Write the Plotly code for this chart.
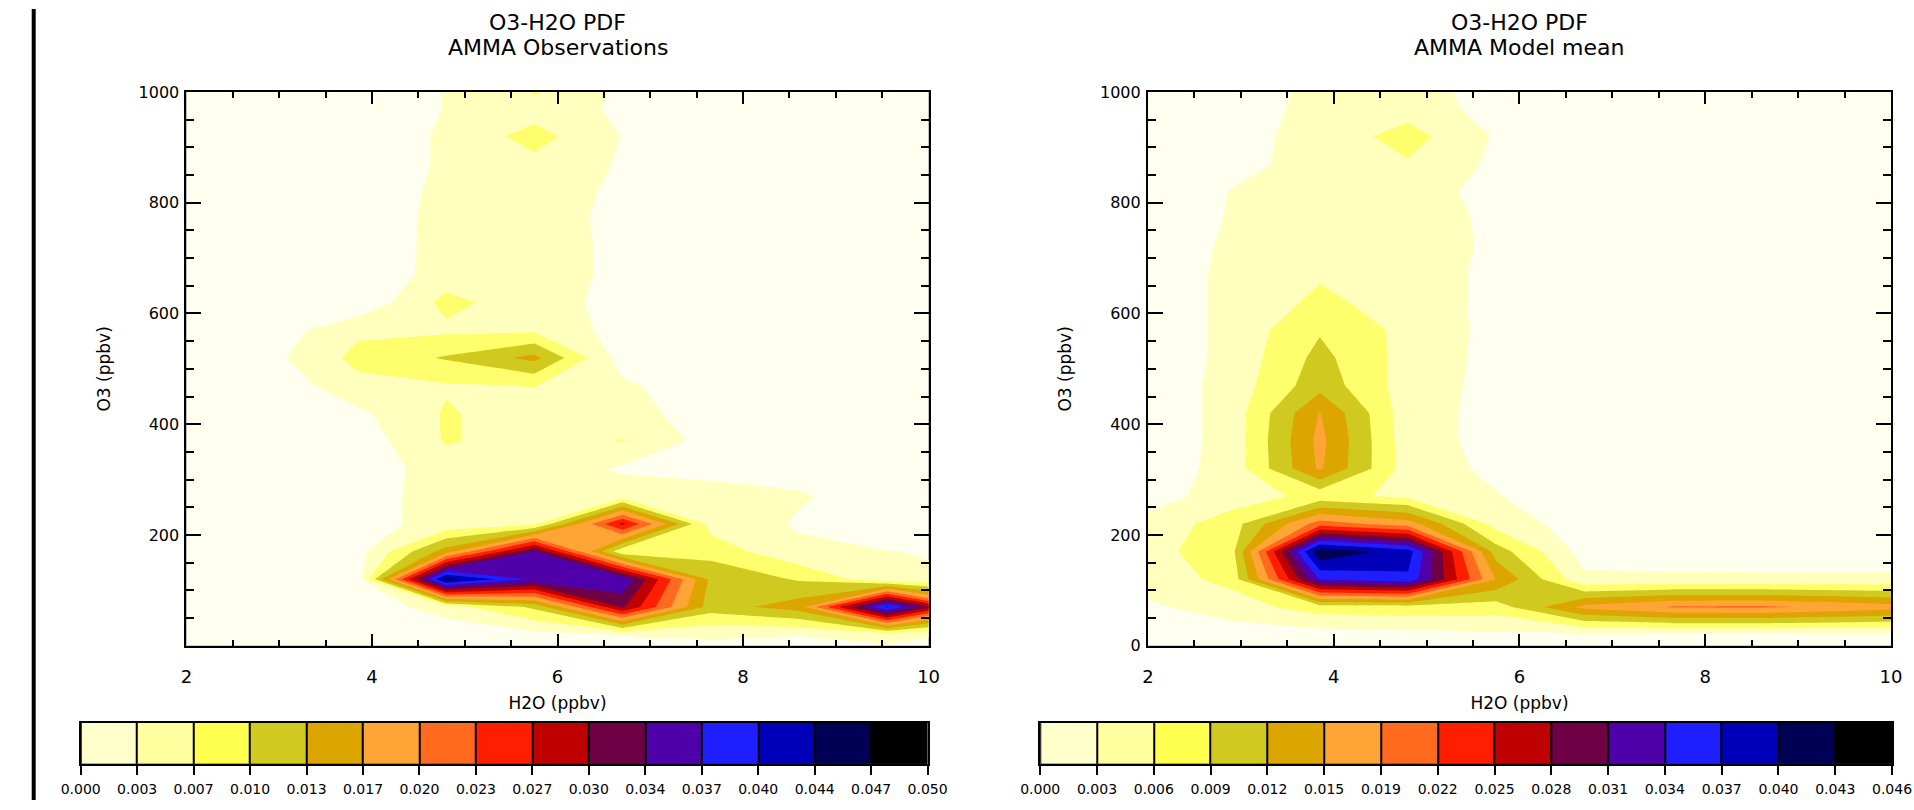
import numpy as np
import plotly.graph_objects as go

# ---------------- data ----------------
# grid of the 2-D PDF (H2O bins, O3 bins)
h2o = [1.0, 1.95, 2.9, 3.85, 4.8, 5.75, 6.7, 7.65, 8.6, 9.55, 10.5]
o3 = [-30, 20, 70, 120, 170, 220, 270, 320, 370, 420, 470, 520,
      570, 620, 670, 720, 770, 820, 870, 920, 970, 1020]

# PDF values x 1e-3, rows = o3 bins, columns = h2o bins
obs_pdf_e3 = [
    [0, 0, 0, 0, 0, 0, 0, 0, 0, 0, 0],
    [0, 0, 0, 0, 1.0, 2.33, 3.5, 4.0, 3.5, 5.0, 2.67],
    [0, 0, 0, 1.0, 5.0, 10.67, 30.5, 11.67, 15.0, 40.5, 20.5],
    [0, 0, 0, 1.67, 45.0, 36.0, 36.33, 12.67, 9.67, 4.33, 3.4],
    [0, 0, 0, 2.0, 15.0, 33.6, 7.33, 8.67, 4.0, 3.4, 3.0],
    [0, 0, 0, 2.33, 4.33, 6.0, 27.5, 5.33, 3.0, 1.33, 1.0],
    [0, 0, 0, 2.0, 4.67, 6.0, 5.0, 4.0, 3.67, 1.67, 0.67],
    [0, 0, 0, 1.33, 5.0, 5.0, 2.9, 2.8, 2.0, 0.67, 0],
    [0, 0, 0, 1.33, 7.0, 5.0, 6.83, 2.0, 0.67, 0, 0],
    [0, 0, 0, 2.67, 7.0, 5.0, 4.67, 1.67, 0, 0, 0],
    [0, 0, 1.0, 5.67, 6.33, 6.8, 4.0, 1.0, 0, 0, 0],
    [0, 0, 2.33, 7.67, 10.33, 14.33, 1.67, 0.33, 0, 0, 0],
    [0, 0, 1.33, 6.0, 6.0, 6.0, 2.0, 0, 0, 0, 0],
    [0, 0, 0, 0.67, 7.67, 4.67, 2.33, 0, 0, 0, 0],
    [0, 0, 0, 0.33, 5.0, 4.67, 2.67, 0, 0, 0, 0],
    [0, 0, 0, 0.67, 4.67, 4.67, 2.67, 0, 0, 0, 0],
    [0, 0, 0, 0.67, 4.67, 5.0, 2.33, 0, 0, 0, 0],
    [0, 0, 0, 0.67, 4.33, 5.0, 2.67, 0, 0, 0, 0],
    [0, 0, 0, 0.33, 4.0, 5.67, 3.0, 0, 0, 0, 0],
    [0, 0, 0, 0.33, 4.0, 8.0, 3.2, 0, 0, 0, 0],
    [0, 0, 0, 0.33, 3.5, 5.0, 2.8, 0, 0, 0, 0],
    [0, 0, 0, 0.33, 3.5, 8.33, 2.8, 0, 0, 0, 0],
]

model_pdf_e3 = [
    [0, 0, 0, 0, 0, 0, 0, 0, 0, 0, 0],
    [0, 0.61, 1.53, 1.84, 2.15, 2.45, 2.45, 2.45, 2.45, 2.45, 2.45],
    [0.61, 2.45, 4.6, 7.67, 7.97, 7.67, 16.25, 18.71, 18.86, 17.48, 15.95],
    [0.92, 4.29, 7.05, 34.0, 36.19, 15.2, 3.68, 3.68, 3.68, 3.68, 3.68],
    [0.92, 4.91, 7.97, 42.6, 38.34, 10.73, 1.84, 1.53, 1.23, 1.23, 1.23],
    [0.92, 3.99, 7.67, 19.94, 16.87, 4.91, 1.53, 0.92, 0.61, 0.61, 0.61],
    [0.31, 1.53, 4.6, 7.05, 5.52, 3.2, 0.92, 0.31, 0, 0, 0],
    [0, 0.92, 4.29, 15.8, 4.6, 2.45, 0.61, 0, 0, 0, 0],
    [0, 0.61, 4.29, 16.25, 4.29, 2.15, 0.31, 0, 0, 0, 0],
    [0, 0.61, 4.29, 15.49, 4.29, 2.15, 0.31, 0, 0, 0, 0],
    [0, 0.61, 4.29, 11.04, 4.6, 2.15, 0.31, 0, 0, 0, 0],
    [0, 0.61, 3.99, 10.12, 4.91, 2.15, 0.31, 0, 0, 0, 0],
    [0, 0.61, 3.99, 8.89, 5.21, 2.15, 0.31, 0, 0, 0, 0],
    [0, 0.61, 3.99, 6.75, 4.91, 2.15, 0.31, 0, 0, 0, 0],
    [0, 0.61, 3.99, 5.83, 4.91, 2.15, 0.31, 0, 0, 0, 0],
    [0, 0.61, 3.68, 5.52, 4.91, 2.45, 0.31, 0, 0, 0, 0],
    [0, 0.31, 3.37, 5.21, 4.6, 2.45, 0.31, 0, 0, 0, 0],
    [0, 0.31, 3.2, 4.91, 4.29, 2.15, 0, 0, 0, 0, 0],
    [0, 0, 1.84, 4.6, 5.83, 2.45, 0, 0, 0, 0, 0],
    [0, 0, 1.84, 4.29, 7.36, 2.76, 0, 0, 0, 0, 0],
    [0, 0, 1.53, 3.99, 4.91, 1.84, 0, 0, 0, 0, 0],
    [0, 0, 1.53, 3.68, 4.29, 1.53, 0, 0, 0, 0, 0],
]

obs_pdf_max = 0.050
model_pdf_max = 0.046

obs_cbar_labels = ["0.000", "0.003", "0.007", "0.010", "0.013", "0.017", "0.020", "0.023",
                   "0.027", "0.030", "0.034", "0.037", "0.040", "0.044", "0.047", "0.050"]
model_cbar_labels = ["0.000", "0.003", "0.006", "0.009", "0.012", "0.015", "0.019", "0.022",
                     "0.025", "0.028", "0.031", "0.034", "0.037", "0.040", "0.043", "0.046"]

h2o_ticks = [2, 4, 6, 8, 10]
obs_o3_ticks = [200, 400, 600, 800, 1000]
model_o3_ticks = [0, 200, 400, 600, 800, 1000]

titles_obs = ["O3-H2O PDF", "AMMA Observations"]
titles_model = ["O3-H2O PDF", "AMMA Model mean"]

# ---------------- styles ----------------
FONT = "DejaVu Sans"
plot_colors = ["#FFFFF0", "#FFFFBE", "#FFFF6E", "#D0CA20", "#DCA500", "#FFA535", "#FF6A1E",
               "#FF1E00", "#BE0000", "#6E0046", "#5000AA", "#1E1EFF", "#0000B9", "#000055", "#000000"]
bar_colors = ["#FFFFCC", "#FFFFA0", "#FFFF50", "#D0CA20", "#DCA500", "#FFA535", "#FF6A1E",
              "#FF1E00", "#BE0000", "#6E0046", "#5000AA", "#1E1EFF", "#0000B9", "#000055", "#000000"]
nseg = len(plot_colors)
plot_scale = [[i / (nseg - 1), c] for i, c in enumerate(plot_colors)]
bar_scale = [[i / (nseg - 1), c] for i, c in enumerate(bar_colors)]

W, H = 1914, 810
def px_x(a, b):
    return [a / W, b / W]
def px_y(top, bottom):
    return [1 - bottom / H, 1 - top / H]

dom_y_main = px_y(85, 652)
dom_x_left = px_x(170, 928)
dom_x_right = px_x(1152, 1911)
dom_y_bar = px_y(731, 773)
dom_x_bar_left = px_x(62, 927)
dom_x_bar_right = px_x(1042, 1912)

fig = go.Figure()

def add_pdf(z_e3, zmax, xa, ya):
    z = np.array(z_e3) * 1e-3
    step = zmax / nseg
    fig.add_trace(go.Contour(
        x=h2o, y=o3, z=z, xaxis=xa, yaxis=ya,
        colorscale=plot_scale, autocontour=False,
        contours=dict(start=step, end=(nseg - 1) * step, size=step,
                      coloring="fill", showlines=False),
        line=dict(width=0, smoothing=0), showscale=False, hoverinfo="skip"))

add_pdf(obs_pdf_e3, obs_pdf_max, "x", "y")
add_pdf(model_pdf_e3, model_pdf_max, "x2", "y2")

seg_index = list(range(nseg))
for xa, ya in (("x3", "y3"), ("x4", "y4")):
    fig.add_trace(go.Heatmap(
        z=[seg_index], x=seg_index, y=[0], colorscale=bar_scale,
        zmin=0, zmax=nseg - 1, xgap=2, showscale=False,
        xaxis=xa, yaxis=ya, hoverinfo="skip"))

def main_x(domain, anchor):
    return dict(domain=domain, anchor=anchor, range=[2, 10],
                tickmode="array", tickvals=h2o_ticks,
                ticks="inside", ticklen=12, tickwidth=1.5, tickcolor="black",
                minor=dict(dtick=0.5, tick0=2, ticks="inside", ticklen=6,
                           tickwidth=1.5, tickcolor="black"),
                showline=True, linewidth=2, linecolor="black", mirror="ticks",
                showgrid=False, zeroline=False,
                tickfont=dict(family=FONT, size=18, color="black"),
                ticklabelstandoff=14,
                title=dict(text="H2O (ppbv)", font=dict(family=FONT, size=17, color="black"),
                           standoff=11))

def main_y(domain, anchor, tickvals):
    return dict(domain=domain, anchor=anchor, range=[0, 1000],
                tickmode="array", tickvals=tickvals,
                ticks="inside", ticklen=15, tickwidth=1.5, tickcolor="black",
                minor=dict(dtick=50, tick0=0, ticks="inside", ticklen=8,
                           tickwidth=1.5, tickcolor="black"),
                showline=True, linewidth=2, linecolor="black", mirror="ticks",
                showgrid=False, zeroline=False,
                tickfont=dict(family=FONT, size=16, color="black"),
                ticklabelstandoff=2,
                title=dict(text="O3 (ppbv)", font=dict(family=FONT, size=17, color="black"),
                           standoff=24))

def bar_x(domain, anchor, labels):
    return dict(domain=domain, anchor=anchor, range=[-0.5, nseg - 0.5],
                tickmode="array", tickvals=[i - 0.5 for i in range(len(labels))],
                ticktext=labels, ticks="outside", ticklen=9, tickwidth=1.5,
                tickcolor="black", showline=True, linewidth=1.5, linecolor="black",
                mirror=True, showgrid=False, zeroline=False, fixedrange=True,
                tickfont=dict(family=FONT, size=14, color="black"),
                ticklabelstandoff=3)

def bar_y(domain, anchor):
    return dict(domain=domain, anchor=anchor, range=[-0.5, 0.5],
                showticklabels=False, ticks="", showline=True, linewidth=1.5,
                linecolor="black", mirror=True, showgrid=False, zeroline=False,
                fixedrange=True)

annotations = []
for cx, lines in ((sum(dom_x_left) / 2, titles_obs), (sum(dom_x_right) / 2, titles_model)):
    for ypx, txt in zip((14, 39), lines):
        annotations.append(dict(text=txt, x=cx, y=1 - ypx / H, xref="paper", yref="paper",
                                xanchor="center", yanchor="middle", showarrow=False,
                                font=dict(family=FONT, size=22, color="black")))

fig.update_layout(
    width=W, height=H, margin=dict(l=0, r=0, t=0, b=0),
    paper_bgcolor="white", plot_bgcolor="black",
    font=dict(family=FONT, color="black"),
    showlegend=False,
    xaxis=main_x(dom_x_left, "y"), yaxis=main_y(dom_y_main, "x", obs_o3_ticks),
    xaxis2=main_x(dom_x_right, "y2"), yaxis2=main_y(dom_y_main, "x2", model_o3_ticks),
    xaxis3=bar_x(dom_x_bar_left, "y3", obs_cbar_labels), yaxis3=bar_y(dom_y_bar, "x3"),
    xaxis4=bar_x(dom_x_bar_right, "y4", model_cbar_labels), yaxis4=bar_y(dom_y_bar, "x4"),
    annotations=annotations,
    shapes=[dict(type="line", xref="paper", yref="paper", x0=14 / W, x1=14 / W, y0=0, y1=1,
                 line=dict(color="black", width=4))],
)

fig.write_html("out.html", config={"displayModeBar": False},
               post_script="document.body.style.margin='0px';document.body.style.overflow='hidden';")
